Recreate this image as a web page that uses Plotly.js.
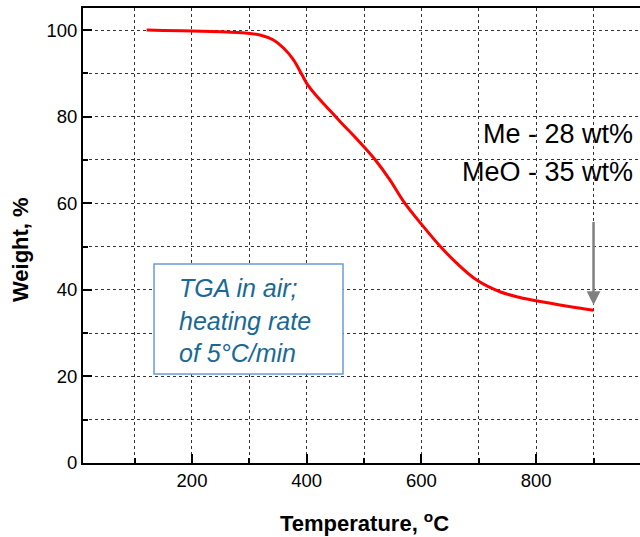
<!DOCTYPE html>
<html>
<head>
<meta charset="utf-8">
<script src="https://cdn.plot.ly/plotly-3.0.1.min.js"></script>
<style>html,body{margin:0;padding:0;background:#fff;overflow:hidden}</style>
</head>
<body>
<div id="chart" style="width:640px;height:537px"></div>
<script>
// Temperature (°C) and weight (%)
const temperature = [121,150,200,250,285,320,342,360,377,392,400,415,435,458,482,500,519,545,569,601,633,662,697,738,770,802,860,900];
const weight = [100.0,99.9,99.8,99.6,99.4,98.8,97.7,95.8,93.1,89.6,87.7,85.1,82.2,78.9,75.6,73.0,70.1,65.4,60.4,55.0,50.0,46.1,42.2,39.5,38.3,37.4,36.1,35.3];
const xTickVals = [200,400,600,800];
const yTickVals = [0,20,40,60,80,100];
const residueLabels = ["Me - 28 wt%", "MeO - 35 wt%"];
const boxText = "TGA in air;<br>heating rate<br>of 5°C/min";
const arrowTemp = 900, arrowFrom = 56, arrowTo = 36.5;

const FONT = "Liberation Sans, Arial, sans-serif";
const trace = {
  x: temperature, y: weight, type: "scatter", mode: "lines",
  line: {color: "#ff0000", width: 3, shape: "spline", smoothing: 1},
  hoverinfo: "skip"
};
const axisCommon = {
  showline: true, linecolor: "#000", linewidth: 2,
  ticks: "inside", ticklen: 9, tickwidth: 2, tickcolor: "#000",
  showgrid: true, gridcolor: "#333", griddash: "dot", gridwidth: 1,
  zeroline: false,
  tickfont: {family: FONT, size: 18.5, color: "#000"}
};
const layout = {
  width: 640, height: 537, autosize: false,
  margin: {l: 83, r: 0, t: 8, b: 74},
  paper_bgcolor: "#fff", plot_bgcolor: "#fff",
  showlegend: false,
  xaxis: Object.assign({}, axisCommon, {
    range: [10, 981], tickmode: "array", tickvals: xTickVals, mirror: true,
    minor: {dtick: 100, tick0: 0, ticks: "inside", ticklen: 5, tickwidth: 2, tickcolor: "#000",
            showgrid: true, gridcolor: "#333", griddash: "dot", gridwidth: 1}
  }),
  yaxis: Object.assign({}, axisCommon, {
    range: [0, 105.1], tickmode: "array", tickvals: yTickVals, mirror: false,
    minor: {dtick: 10, tick0: 0, ticks: "inside", ticklen: 5, tickwidth: 2, tickcolor: "#000",
            showgrid: true, gridcolor: "#333", griddash: "dot", gridwidth: 1}
  }),
  shapes: [{
    type: "rect", xref: "paper", yref: "paper",
    x0: 0.1275, x1: 0.4668, y0: 0.1956, y1: 0.4374,
    fillcolor: "#fff", line: {color: "#6a9bd8", width: 1.5}, layer: "above"
  }],
  annotations: [
    {xref: "paper", yref: "paper", x: 0.5045, y: -0.1297, xanchor: "center", yanchor: "middle",
     showarrow: false, text: "<b>Temperature, <sup>o</sup>C</b>", font: {family: FONT, size: 22, color: "#000"}},
    {xref: "paper", yref: "paper", x: -0.1131, y: 0.468, xanchor: "center", yanchor: "middle",
     textangle: -90, showarrow: false, text: "<b>Weight, %</b>", font: {family: FONT, size: 22, color: "#000"}},
    {xref: "paper", yref: "paper", x: 0.991, y: 0.722, xanchor: "right", yanchor: "middle",
     showarrow: false, text: residueLabels[0], font: {family: FONT, size: 27, color: "#000"}},
    {xref: "paper", yref: "paper", x: 0.991, y: 0.6396, xanchor: "right", yanchor: "middle",
     showarrow: false, text: residueLabels[1], font: {family: FONT, size: 27, color: "#000"}},
    {xref: "paper", yref: "paper", x: 0.1688, y: 0.313, xanchor: "left", yanchor: "middle", align: "left",
     showarrow: false, text: "<i>" + boxText.split("<br>").join("</i><br><i>") + "</i>",
     font: {family: FONT, size: 25, color: "#1a6896"}},
    {xref: "x", yref: "y", x: arrowTemp, y: arrowTo, axref: "x", ayref: "y", ax: arrowTemp, ay: arrowFrom,
     text: "", showarrow: true, arrowhead: 2, arrowsize: 1.1, arrowwidth: 2.5, arrowcolor: "#808080", standoff: 0}
  ]
};
Plotly.newPlot("chart", [trace], layout, {displayModeBar: false, staticPlot: true});
</script>
</body>
</html>
